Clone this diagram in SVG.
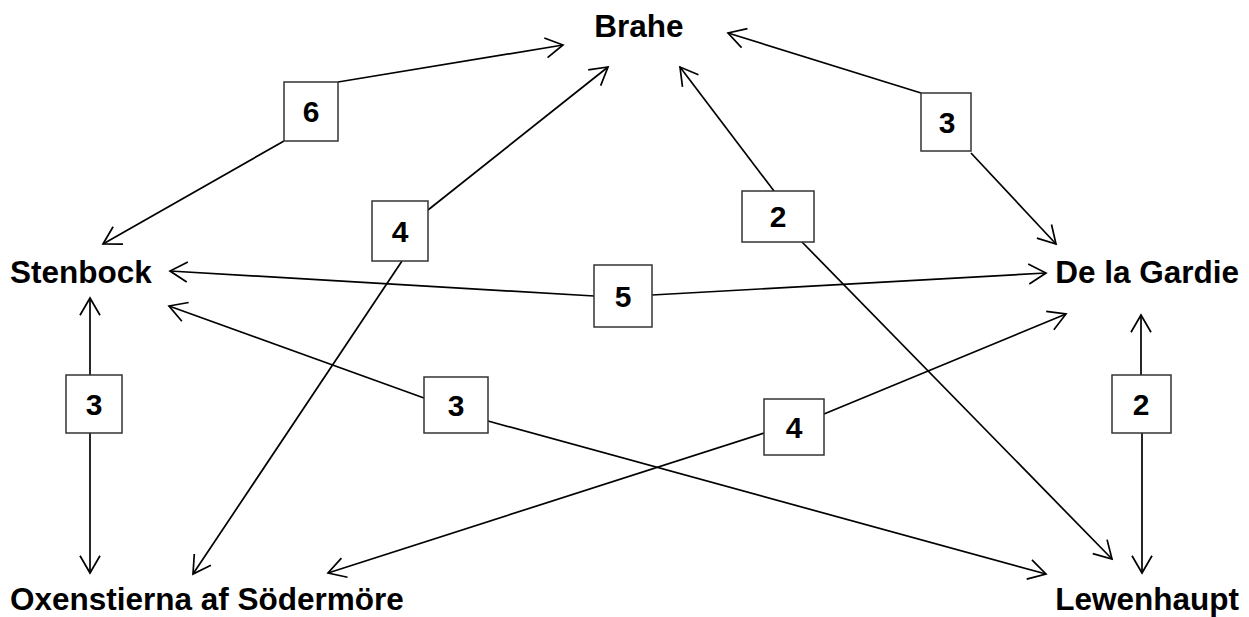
<svg xmlns="http://www.w3.org/2000/svg" width="1249" height="617" viewBox="0 0 1249 617">
<style>
.node{font-family:"Liberation Sans",Arial,sans-serif;font-weight:bold;font-size:31.5px;fill:#000}
.e{stroke:#000;stroke-width:1.7;fill:none;marker-end:url(#arr)}
.lb{fill:#fff;stroke:#333;stroke-width:1.5}
.lt{font-family:"Liberation Sans",Arial,sans-serif;font-weight:bold;font-size:30px;fill:#000;text-anchor:middle}
</style>
<defs>
<marker id="arr" markerUnits="userSpaceOnUse" viewBox="-20 -12 22 24" refX="0" refY="0" markerWidth="22" markerHeight="24" orient="auto">
<path d="M-17.3,-10 L0,0 L-17.3,10" fill="none" stroke="#000" stroke-width="1.7"/>
</marker>
</defs>
<rect width="1249" height="617" fill="#fff"/>
<g id="connectors">
<g id="edge-brahe-stenbock">
<line class="e" x1="284" y1="141" x2="103" y2="244"/>
<line class="e" x1="338" y1="82" x2="563" y2="45"/>
<rect class="lb" x="284" y="82" width="54" height="59"/>
<text class="lt" x="311" y="122">6</text>
</g>
<g id="edge-brahe-oxenstierna">
<line class="e" x1="428" y1="210" x2="608" y2="67"/>
<line class="e" x1="402" y1="261" x2="193" y2="574"/>
<rect class="lb" x="372" y="201" width="56" height="60"/>
<text class="lt" x="400" y="242">4</text>
</g>
<g id="edge-brahe-delagardie">
<line class="e" x1="921" y1="93" x2="728" y2="33"/>
<line class="e" x1="971" y1="153" x2="1056" y2="244"/>
<rect class="lb" x="921" y="93" width="50" height="58"/>
<text class="lt" x="947" y="133">3</text>
</g>
<g id="edge-brahe-lewenhaupt">
<line class="e" x1="774" y1="191" x2="680" y2="67"/>
<line class="e" x1="802" y1="242" x2="1112" y2="559"/>
<rect class="lb" x="742" y="191" width="72" height="51"/>
<text class="lt" x="778" y="227">2</text>
</g>
<g id="edge-stenbock-delagardie">
<line class="e" x1="594" y1="296" x2="170" y2="271"/>
<line class="e" x1="652" y1="295" x2="1046" y2="273"/>
<rect class="lb" x="594" y="265" width="58" height="62"/>
<text class="lt" x="623" y="307">5</text>
</g>
<g id="edge-stenbock-lewenhaupt">
<line class="e" x1="424" y1="398" x2="169" y2="306"/>
<line class="e" x1="488" y1="421" x2="1046" y2="574"/>
<rect class="lb" x="424" y="377" width="64" height="56"/>
<text class="lt" x="456" y="416">3</text>
</g>
<g id="edge-stenbock-oxenstierna">
<line class="e" x1="90" y1="375" x2="90" y2="298"/>
<line class="e" x1="90" y1="433" x2="90" y2="573"/>
<rect class="lb" x="66" y="375" width="56" height="58"/>
<text class="lt" x="94" y="415">3</text>
</g>
<g id="edge-oxenstierna-delagardie">
<line class="e" x1="764" y1="433" x2="328" y2="573"/>
<line class="e" x1="824" y1="414" x2="1066" y2="314"/>
<rect class="lb" x="764" y="399" width="60" height="56"/>
<text class="lt" x="794" y="438">4</text>
</g>
<g id="edge-delagardie-lewenhaupt">
<line class="e" x1="1141" y1="375" x2="1141" y2="315"/>
<line class="e" x1="1142" y1="433" x2="1142" y2="573"/>
<rect class="lb" x="1112" y="375" width="59" height="58"/>
<text class="lt" x="1141" y="415">2</text>
</g>
</g>
<g id="node-brahe"><text class="node" x="639" y="37" text-anchor="middle">Brahe</text></g>
<g id="node-stenbock"><text class="node" x="10" y="283">Stenbock</text></g>
<g id="node-delagardie"><text class="node" x="1239" y="283" text-anchor="end">De la Gardie</text></g>
<g id="node-oxenstierna"><text class="node" x="10" y="610">Oxenstierna af Södermöre</text></g>
<g id="node-lewenhaupt"><text class="node" x="1239" y="610" text-anchor="end">Lewenhaupt</text></g>
</svg>
